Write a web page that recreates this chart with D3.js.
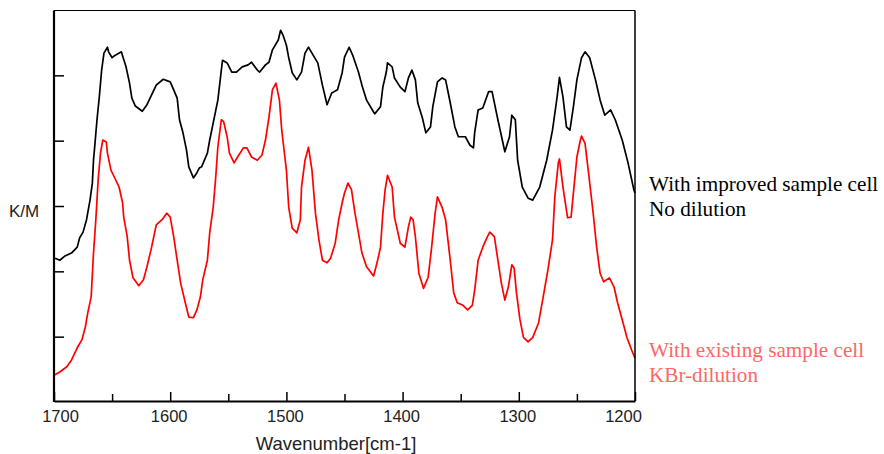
<!DOCTYPE html>
<html>
<head>
<meta charset="utf-8">
<script src="https://cdn.jsdelivr.net/npm/d3@7/dist/d3.min.js"></script>
<style>
html,body{margin:0;padding:0;background:#fff;}
svg{display:block;}
</style>
</head>
<body>
<svg id="chart" width="884" height="454"></svg>
<script>
// ---- Data ----
const improvedWn = [1699,1695,1691,1685,1680,1678,1675,1672,1669,1667,1666,1665,1663,1661,1659,1657,1654,1653,1650,1648,1642,1641,1638,1635,1633,1630,1624,1620,1616,1612,1606,1600,1598,1594,1592,1589,1586,1584,1580,1577,1575,1573,1568,1566,1563,1559,1556,1555,1551,1547,1543,1538,1533,1530,1525,1523,1518,1515,1512,1507,1505,1503,1500,1498,1495,1491,1487,1484,1481,1477,1473,1469,1465,1461,1456,1452,1450,1446,1443,1438,1435,1431,1426,1424,1419,1417,1414,1413,1409,1407,1402,1398,1395,1392,1389,1387,1383,1380,1376,1374,1370,1366,1363,1359,1355,1352,1346,1342,1339,1338,1335,1331,1326,1323,1318,1312,1308,1306,1303,1301,1297,1292,1288,1282,1276,1271,1267,1265,1262,1259,1256,1253,1250,1246,1243,1239,1234,1230,1226,1221,1217,1211,1206,1201,1200];
const improvedKM = [2.20,2.17,2.23,2.28,2.37,2.51,2.60,2.79,3.09,3.35,3.70,3.90,4.32,4.67,5.08,5.34,5.43,5.36,5.27,5.30,5.36,5.30,5.13,4.88,4.65,4.53,4.45,4.55,4.70,4.85,4.94,4.90,4.82,4.65,4.32,4.12,3.86,3.60,3.43,3.51,3.58,3.60,3.81,4.01,4.27,4.62,5.08,5.23,5.19,5.05,5.05,5.13,5.16,5.20,5.08,5.05,5.16,5.20,5.39,5.54,5.69,5.62,5.46,5.27,5.04,4.93,5.05,5.34,5.43,5.31,5.19,4.85,4.55,4.73,4.78,5.04,5.28,5.43,5.31,5.05,4.85,4.62,4.47,4.41,4.52,4.82,5.05,5.19,5.13,4.96,4.82,4.75,4.96,5.08,4.93,4.58,4.35,4.12,4.21,4.52,4.90,4.96,4.93,4.58,4.21,4.06,4.06,3.93,3.89,4.12,4.47,4.50,4.75,4.75,4.32,3.83,4.06,4.39,4.32,3.70,3.29,3.12,3.09,3.29,3.70,4.16,4.67,4.97,4.67,4.21,4.16,4.52,4.93,5.27,5.36,5.27,4.93,4.62,4.39,4.47,4.32,4.01,3.66,3.25,3.20];

const existingWn = [1700,1695,1689,1685,1680,1676,1673,1671,1668,1666,1664,1662,1660,1658,1655,1654,1651,1648,1644,1641,1640,1637,1635,1632,1627,1623,1620,1616,1612,1607,1603,1600,1597,1594,1591,1587,1584,1580,1577,1574,1572,1568,1566,1563,1561,1559,1556,1554,1551,1549,1545,1542,1537,1534,1530,1525,1521,1518,1515,1512,1509,1506,1504,1500,1498,1495,1491,1488,1487,1484,1481,1478,1475,1472,1469,1465,1462,1458,1455,1452,1450,1447,1444,1441,1438,1435,1431,1425,1422,1419,1417,1415,1413,1409,1407,1402,1398,1395,1393,1391,1389,1386,1382,1378,1375,1372,1370,1366,1363,1359,1356,1353,1348,1344,1340,1338,1335,1331,1327,1325,1321,1318,1315,1312,1309,1306,1304,1302,1299,1296,1292,1288,1283,1279,1275,1271,1269,1266,1265,1262,1258,1255,1253,1250,1247,1246,1243,1240,1236,1233,1230,1227,1222,1218,1215,1211,1207,1203,1200];
const existingKM = [0.41,0.46,0.54,0.64,0.83,0.95,1.15,1.36,1.61,2.28,2.79,3.40,3.81,4.01,3.98,3.81,3.55,3.44,3.29,3.05,2.83,2.53,2.17,1.90,1.78,1.87,2.07,2.37,2.71,2.79,2.89,2.83,2.53,2.17,1.82,1.52,1.30,1.29,1.41,1.61,1.87,2.17,2.59,2.98,3.40,3.90,4.32,4.29,4.06,3.81,3.66,3.75,3.89,3.89,3.75,3.70,3.78,4.01,4.36,4.78,4.88,4.62,4.16,3.55,2.98,2.66,2.59,2.79,3.29,3.70,3.90,3.55,2.89,2.48,2.17,2.13,2.20,2.43,2.79,3.05,3.20,3.35,3.25,2.89,2.59,2.28,2.07,1.93,2.13,2.37,2.89,3.25,3.47,3.29,2.83,2.43,2.37,2.68,2.83,2.79,2.53,1.97,1.74,1.91,2.37,2.89,3.14,2.98,2.79,2.17,1.67,1.52,1.48,1.41,1.48,1.71,2.17,2.37,2.53,2.60,2.53,2.17,1.82,1.56,1.76,2.10,2.05,1.67,1.26,0.99,0.92,0.99,1.21,1.61,2.02,2.48,3.14,3.66,3.72,3.29,2.82,2.83,3.20,3.75,4.01,4.07,3.96,3.51,2.89,2.37,1.97,1.84,1.90,1.76,1.52,1.26,0.99,0.80,0.67];

const xTicks = [1700,1650,1600,1550,1500,1450,1400,1350,1300,1250,1200];
const xTickLabels = ["1700","","1600","","1500","","1400","","1300","","1200"];
const yTicks = [1,2,3,4,5];
const legendBlack = ["With improved sample cell","No dilution"];
const legendRed = ["With existing sample cell","KBr-dilution"];

// ---- Layout ----
const L = 54, R = 635, T = 10.5, B = 401;
const svg = d3.select("#chart");
const x = d3.scaleLinear().domain([1700,1200]).range([L,R]);
const y = d3.scaleLinear().domain([0,6]).range([402,10]);

const line = d3.line().x(d=>x(d[0])).y(d=>y(d[1]));
const black = improvedWn.map((w,i)=>[w,improvedKM[i]]);
const red = existingWn.map((w,i)=>[w,existingKM[i]]);

svg.append("path").datum(black).attr("d",line)
  .attr("fill","none").attr("stroke","#000").attr("stroke-width",1.7).attr("stroke-linejoin","round");
svg.append("path").datum(red).attr("d",line)
  .attr("fill","none").attr("stroke","#ff0000").attr("stroke-width",1.7).attr("stroke-linejoin","round");

// Frame
svg.append("line").attr("x1",L).attr("x2",R).attr("y1",T).attr("y2",T).attr("stroke","#000").attr("stroke-width",1.2);
svg.append("line").attr("x1",R).attr("x2",R).attr("y1",T).attr("y2",B).attr("stroke","#000").attr("stroke-width",1.5);

// X axis
const xAxis = d3.axisBottom(x).tickValues(xTicks)
  .tickSizeInner(-8).tickSizeOuter(0).tickPadding(9)
  .tickFormat((d,i)=>xTickLabels[i]);
const gx = svg.append("g").attr("transform",`translate(0,${B})`).call(xAxis);
gx.select(".domain").attr("stroke","#000").attr("stroke-width",2.2);
gx.selectAll(".tick line").attr("stroke","#000").attr("stroke-width",1.5)
  .attr("y2",(d,i)=> xTickLabels[i] ? -9 : -7);
gx.selectAll(".tick text").attr("font-family","Liberation Sans, Arial, sans-serif")
  .attr("font-size",16.5).attr("fill","#222")
  .attr("dx",(d)=> d===1700 ? 6 : (d===1200 ? -12 : -1.5));

// Y axis
const yAxis = d3.axisLeft(y).tickValues(yTicks).tickSizeInner(-10).tickSizeOuter(0).tickFormat("");
const gy = svg.append("g").attr("transform",`translate(${L},0)`).call(yAxis);
gy.select(".domain").remove();
gy.selectAll(".tick line").attr("stroke","#000").attr("stroke-width",1.5);
svg.append("line").attr("x1",L).attr("x2",L).attr("y1",T).attr("y2",B+1).attr("stroke","#000").attr("stroke-width",2.2);

// Axis titles
svg.append("text").attr("x",336).attr("y",450).attr("text-anchor","middle")
  .attr("font-family","Liberation Sans, Arial, sans-serif").attr("font-size",18.5).attr("fill","#222")
  .text("Wavenumber[cm-1]");
svg.append("text").attr("x",9).attr("y",217)
  .attr("font-family","Liberation Sans, Arial, sans-serif").attr("font-size",17).attr("fill","#222")
  .text("K/M");

// Legends
const serif = "Liberation Serif, Times New Roman, serif";
svg.append("g").selectAll("text").data(legendBlack).join("text")
  .attr("x",649).attr("y",(d,i)=>191+i*25).attr("font-family",serif).attr("font-size",21.2)
  .attr("fill","#000").text(d=>d);
svg.append("g").selectAll("text").data(legendRed).join("text")
  .attr("x",649).attr("y",(d,i)=>357+i*25).attr("font-family",serif).attr("font-size",21.2)
  .attr("fill","#ff6666").text(d=>d);
</script>
</body>
</html>
